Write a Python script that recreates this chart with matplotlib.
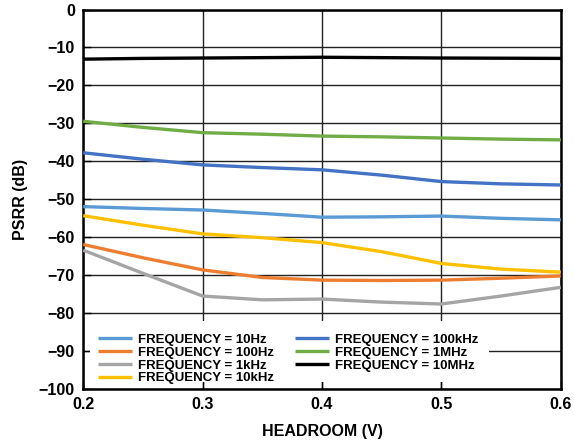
import numpy as np
import matplotlib
matplotlib.use("Agg")
import matplotlib.pyplot as plt
from matplotlib.patches import Rectangle

plt.rcParams['font.family'] = ['Liberation Sans', 'DejaVu Sans']
plt.rcParams['font.weight'] = 'bold'

headroom = [0.20, 0.25, 0.30, 0.35, 0.40, 0.45, 0.50, 0.55, 0.60]

f_10hz = [-52.0, -52.5, -52.9, -53.8, -54.8, -54.7, -54.5, -55.1, -55.5]
f_100hz = [-62.0, -65.5, -68.7, -70.7, -71.4, -71.5, -71.4, -70.9, -70.3]
f_1khz = [-63.5, -69.6, -75.6, -76.6, -76.4, -77.2, -77.7, -75.6, -73.3]
f_10khz = [-54.4, -56.9, -59.2, -60.2, -61.5, -63.9, -67.0, -68.5, -69.3]
f_100khz = [-37.8, -39.5, -41.0, -41.7, -42.3, -43.7, -45.4, -46.0, -46.3]
f_1mhz = [-29.5, -31.1, -32.5, -32.9, -33.4, -33.6, -33.9, -34.2, -34.4]
f_10mhz = [-13.1, -12.9, -12.8, -12.7, -12.6, -12.7, -12.8, -12.85, -12.9]

labels = ["FREQUENCY = 10Hz", "FREQUENCY = 100Hz", "FREQUENCY = 1kHz",
          "FREQUENCY = 10kHz", "FREQUENCY = 100kHz", "FREQUENCY = 1MHz",
          "FREQUENCY = 10MHz"]
colors = ["#5B9BD5", "#ED7D31", "#A5A5A5", "#FFC000", "#4472C4", "#70AD47", "#000000"]
series = [f_10hz, f_100hz, f_1khz, f_10khz, f_100khz, f_1mhz, f_10mhz]

fig = plt.figure(figsize=(5.74, 4.42), dpi=100)
ax = fig.add_axes([0.145, 0.121, 0.832, 0.8575])

for y, lab, c in zip(series, labels, colors):
    ax.plot(headroom, y, color=c, lw=2.4, label=lab, solid_capstyle='butt', zorder=3)

ax.set_xlim(0.2, 0.6)
ax.set_ylim(-100, 0)
ax.set_xticks([0.2, 0.3, 0.4, 0.5, 0.6])
ax.set_xticklabels(["0.2", "0.3", "0.4", "0.5", "0.6"])
ax.set_yticks(np.arange(-100, 1, 10))
ax.set_yticklabels(["\u2212%d" % (-v) if v < 0 else "0" for v in range(-100, 1, 10)])
ax.tick_params(direction='in', length=6, width=1, labelsize=11.5, pad=6)
ax.grid(True, color='#222222', lw=1)
ax.set_axisbelow(True)
for s in ax.spines.values():
    s.set_linewidth(1.8)

ax.set_xlabel("HEADROOM (V)", fontsize=11.5, fontweight='bold', labelpad=9)
ax.set_ylabel("PSRR (dB)", fontsize=11.5, fontweight='bold', labelpad=8)

# white box behind the legend
ax.add_patch(Rectangle((0.014, 0.017), 0.835, 0.161, transform=ax.transAxes,
                       facecolor='white', edgecolor='none', zorder=2.6))
ax.legend(loc='upper left', bbox_to_anchor=(0.025, 0.152), ncol=2, frameon=False,
          prop={'size': 9.5, 'weight': 'bold'}, handlelength=2.6, handletextpad=0.45,
          columnspacing=1.6, labelspacing=0.05, borderaxespad=0.0, borderpad=0.2)

plt.savefig("out.png", dpi=100)
